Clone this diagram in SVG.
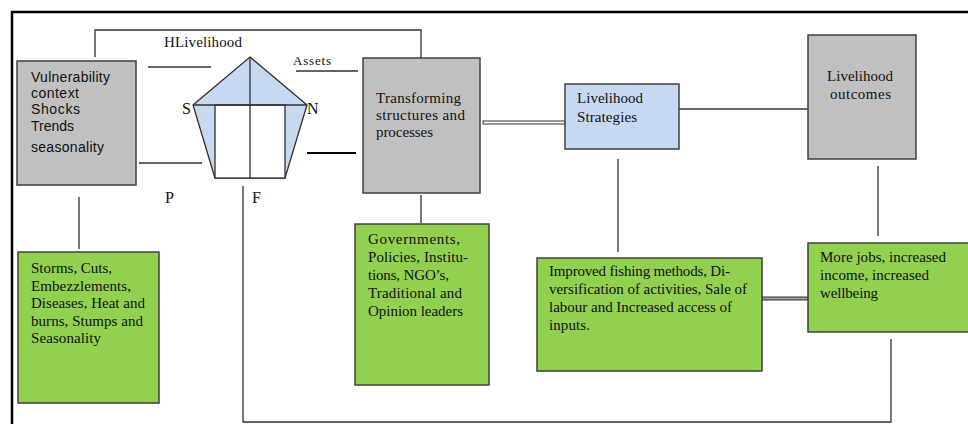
<svg xmlns="http://www.w3.org/2000/svg" width="968" height="424" viewBox="0 0 968 424">
<style>
.gray{fill:#c0c0c0;stroke:#404040;stroke-width:1.5}
.blue{fill:#c6d9f1;stroke:#404040;stroke-width:1.5}
.green{fill:#92d050;stroke:#404040;stroke-width:1.5}
.ln{fill:none;stroke:#303030;stroke-width:1.3}
.t{font-family:"Liberation Serif","Times New Roman",serif;font-size:15px;fill:#111}
.s{font-family:"Liberation Sans",Arial,sans-serif;font-size:14px;fill:#111}
.big{font-family:"Liberation Serif","Times New Roman",serif;font-size:16px;fill:#111}
</style>
<rect width="968" height="424" fill="#fff"/>
<g id="frame">
<path d="M12 424 V12 H968" fill="none" stroke="#000" stroke-width="2.5"/>
</g>
<g id="connectors">
<path class="ln" d="M95 57 V30 H421 V58"/>
<path class="ln" d="M148 67 H211"/>
<path class="ln" d="M296 71 H358"/>
<path class="ln" d="M139 163 H202"/>
<path d="M307 153 H356" stroke="#000" stroke-width="2.2" fill="none"/>
<path class="ln" d="M243 186 V422 H891 V339"/>
<path class="ln" d="M79 197 V249"/>
<path class="ln" d="M421 195 V223"/>
<rect x="483" y="121" width="82" height="3" fill="#fff" stroke="#303030" stroke-width="1"/>
<path class="ln" d="M679 109 H808"/>
<path class="ln" d="M618 159 V252"/>
<path class="ln" d="M878 166 V236"/>
<rect x="762" y="297" width="46" height="3" fill="#a0a0a0" stroke="#303030" stroke-width="1"/>
</g>
<g id="vulnerability">
<rect class="gray" x="17" y="61" width="119" height="124"/>
<text class="s" x="31" y="82" textLength="79">Vulnerability</text>
<text class="s" x="31" y="98" textLength="48">context</text>
<text class="s" x="31" y="114" textLength="49">Shocks</text>
<text class="s" x="31" y="131" textLength="43">Trends</text>
<text class="s" x="31" y="152" textLength="73">seasonality</text>
</g>
<g id="assets">
<polygon points="250,57 307,105 285,178 215,178 193,105" fill="#c6d9f1" stroke="#303030" stroke-width="1.3"/>
<rect x="215" y="105" width="70" height="73" fill="#fff" stroke="#303030" stroke-width="1.3"/>
<path class="ln" d="M193 105 H307 M250 57 V178"/>
<text class="t" x="164" y="47" textLength="78">HLivelihood</text>
<text class="t" x="293" y="65" style="font-size:13px" textLength="38">Assets</text>
<text class="big" x="182" y="114">S</text>
<text class="big" x="307" y="114">N</text>
<text class="big" x="165" y="203">P</text>
<text class="big" x="252" y="203">F</text>
</g>
<g id="transforming">
<rect class="gray" x="363" y="58" width="117" height="135"/>
<text class="t" x="376" y="103" textLength="85">Transforming</text>
<text class="t" x="376" y="120" textLength="89">structures and</text>
<text class="t" x="376" y="137" textLength="57">processes</text>
</g>
<g id="strategies">
<rect class="blue" x="565" y="84" width="114" height="65"/>
<text class="t" x="577" y="103" textLength="66">Livelihood</text>
<text class="t" x="577" y="122" textLength="60">Strategies</text>
</g>
<g id="outcomes">
<rect class="gray" x="808" y="35" width="108" height="124"/>
<text class="t" x="827" y="81" textLength="66">Livelihood</text>
<text class="t" x="830" y="99" textLength="61">outcomes</text>
</g>
<g id="storms">
<rect class="green" x="18" y="252" width="141" height="151"/>
<text class="t" x="31" y="273" textLength="81">Storms, Cuts,</text>
<text class="t" x="31" y="290.5" textLength="100">Embezzlements,</text>
<text class="t" x="31" y="308" textLength="114">Diseases, Heat and</text>
<text class="t" x="31" y="325.5" textLength="112">burns, Stumps and</text>
<text class="t" x="31" y="343" textLength="70">Seasonality</text>
</g>
<g id="governments">
<rect class="green" x="355" y="224" width="134" height="161"/>
<text class="t" x="368" y="244" textLength="92">Governments,</text>
<text class="t" x="368" y="262" textLength="100">Policies, Institu-</text>
<text class="t" x="368" y="280" textLength="81">tions, NGO’s,</text>
<text class="t" x="368" y="298" textLength="94">Traditional and</text>
<text class="t" x="368" y="316" textLength="95">Opinion leaders</text>
</g>
<g id="improved">
<rect class="green" x="537" y="258" width="225" height="113"/>
<text class="t" x="549" y="276" textLength="181">Improved fishing methods, Di-</text>
<text class="t" x="549" y="294" textLength="198">versification of activities, Sale of</text>
<text class="t" x="549" y="312" textLength="183">labour and Increased access of</text>
<text class="t" x="549" y="330" textLength="41">inputs.</text>
</g>
<g id="morejobs">
<rect class="green" x="808" y="243" width="164" height="89"/>
<text class="t" x="820" y="262" textLength="126">More jobs, increased</text>
<text class="t" x="820" y="280" textLength="109">income, increased</text>
<text class="t" x="820" y="298" textLength="58">wellbeing</text>
</g>
</svg>
